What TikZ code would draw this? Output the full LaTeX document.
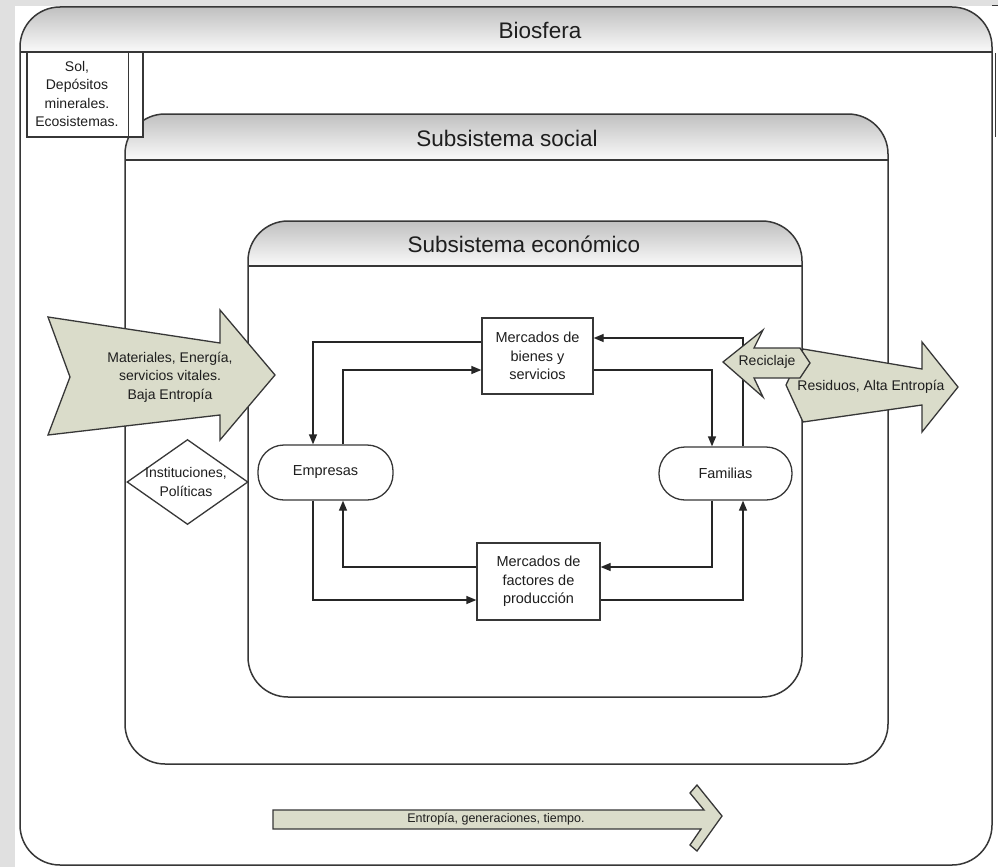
\documentclass[tikz,border=0pt]{standalone}
\usepackage{fontspec}
\setmainfont{Liberation Sans}
\usetikzlibrary{shapes.geometric,arrows.meta,calc}
\definecolor{bggray}{RGB}{224,224,224}
\definecolor{linec}{RGB}{55,55,55}
\definecolor{hdrtop}{RGB}{192,192,192}
\definecolor{hdrbot}{RGB}{250,250,250}
\definecolor{arrowfill}{RGB}{218,220,202}
\definecolor{txt}{RGB}{30,30,30}
\begin{document}
\begin{tikzpicture}[x=1pt,y=-1pt,
  framepen/.style={draw=linec, line width=1.5pt},
  title/.style={font=\fontsize{22.5}{26}\selectfont, text=txt, inner sep=0pt},
  box/.style={draw=linec, line width=1.3pt, fill=white, inner sep=0pt, align=center,
              font=\fontsize{14.5}{18.5}\selectfont, text=txt},
  pill/.style={box, rounded corners=26pt},
  label/.style={inner sep=0pt, align=center, font=\fontsize{14}{18.5}\selectfont, text=txt},
  bigarrow/.style={draw=linec, line width=1.3pt, fill=arrowfill, line join=miter},
  flow/.style={draw=black!85, line width=1.3pt, -{Triangle[length=10pt,width=8pt]}}
]
\useasboundingbox (0,0) rectangle (998,867);
\fill[bggray] (0,0) rectangle (998,867);
\fill[white] (15,6) rectangle (998,867);

% containers: left/top/header-bottom/right/bottom
\foreach \l/\t/\h/\r/\b in {20/7/52/992/865, 125/114/160/888/764, 248/221/266/802/697}{
  \fill[white, rounded corners=40pt] (\l,\t) rectangle (\r,\b);
  \begin{scope}
    \clip[rounded corners=40pt] (\l,\t) rectangle (\r,\b);
    \shade[top color=hdrtop, bottom color=hdrbot] (\l,\t) rectangle (\r,\h);
  \end{scope}
  \draw[framepen, rounded corners=40pt] (\l,\t) rectangle (\r,\b);
  \draw[framepen] (\l,\h) -- (\r,\h);
}
\draw[linec, line width=1.2pt] (995.5,53) -- (995.5,137);
\draw[linec, line width=1.2pt] (992,5.5) -- (998,5.5);

\node[title] (tbio) at (540,30) {Biosfera};
\node[title] (tsoc) at (507,138) {Subsistema social};
\node[title] (teco) at (524,244) {Subsistema económico};

% Sol box
\node[box, minimum width=116pt, minimum height=85pt] (sol) at (85,94.5) {};
\draw[linec, line width=1.3pt] ($(sol.north east)+(-15,0)$) -- ($(sol.south east)+(-15,0)$);
\node[label] (soltxt) at (77,94) {Sol,\\Depósitos\\minerales.\\Ecosistemas.};

% input arrow
\draw[bigarrow] (48,317) -- (220,343) -- (220,310) -- (275,375) -- (220,440) -- (220,415) -- (48,435) -- (70,377) -- cycle;
\node[label] (mat) at (170,377) {Materiales, Energía,\\servicios vitales.\\Baja Entropía};

% diamond
\node[draw=linec, line width=1.3pt, fill=white, shape=diamond, minimum width=121pt, minimum height=85pt, inner sep=0pt] (inst) at (187.5,482) {};
\node[label] (insttxt) at (186,482) {Instituciones,\\Políticas};

% output arrows
\draw[bigarrow] (803,349) -- (922,369) -- (922,342) -- (958,387) -- (922,432) -- (922,405) -- (803,422) -- (786,385) -- cycle;
\node[label] (resid) at (871,387) {Residuos, Alta Entropía};

% bottom arrow
\draw[bigarrow] (273,810) -- (704,810) -- (690,793) -- (697,785) -- (722,816) -- (697,851) -- (690,845) -- (701,829) -- (273,829) -- cycle;
\node[label, font=\fontsize{12.5}{15}\selectfont] (entro) at (496,819.5) {Entropía, generaciones, tiempo.};

% economic nodes
\node[box, minimum width=111pt, minimum height=76pt] (bienes) at (537.5,356) {Mercados de\\bienes y\\servicios};
\node[box, minimum width=123pt, minimum height=77pt] (factores) at (538.5,581.5) {Mercados de\\factores de\\producción};
\node[pill, minimum width=135pt, minimum height=55pt] (empresas) at (325.5,472.5) {Empresas};
\node[pill, minimum width=133pt, minimum height=53pt] (familias) at (725.5,473.5) {Familias};

\coordinate (c1) at (313,342);
\coordinate (c2) at (343,370);
\coordinate (c3) at (743,338);
\coordinate (c4) at (712,370);
\coordinate (c5) at (343,567);
\coordinate (c6) at (313,600);
\coordinate (c7) at (712,567);
\coordinate (c8) at (743,600);

\draw[flow] (bienes.west |- c1) -- (c1) -- (empresas.north -| c1);
\draw[flow] (empresas.north -| c2) -- (c2) -- (bienes.west |- c2);
\draw[flow] (familias.north -| c3) -- (c3) -- (bienes.east |- c3);
\draw[flow] (bienes.east |- c4) -- (c4) -- (familias.north -| c4);
\draw[flow] (factores.west |- c5) -- (c5) -- (empresas.south -| c5);
\draw[flow] (empresas.south -| c6) -- (c6) -- (factores.west |- c6);
\draw[flow] (familias.south -| c7) -- (c7) -- (factores.east |- c7);
\draw[flow] (factores.east |- c8) -- (c8) -- (familias.south -| c8);

% recycling arrow, drawn over the connector line
\draw[bigarrow] (723,362) -- (763,330) -- (754,348) -- (800,348) -- (810,363) -- (800,378) -- (754,378) -- (763,397) -- cycle;
\node[label] (reci) at (767,362) {Reciclaje};
\end{tikzpicture}
\end{document}
